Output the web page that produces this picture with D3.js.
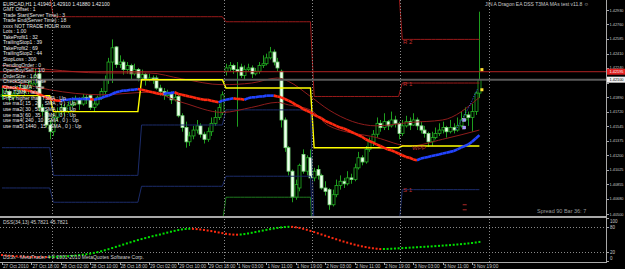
<!DOCTYPE html>
<html><head><meta charset="utf-8">
<script src="https://cdn.jsdelivr.net/npm/d3@7/dist/d3.min.js"></script>
<style>html,body{margin:0;padding:0;background:#000;overflow:hidden}text{font-family:"Liberation Sans",Arial,sans-serif}</style>
</head><body><svg id="c" width="625" height="269"></svg>
<script>
// ---------------- DATA ----------------
const open = [1.4190,1.4192,1.4196,1.4189,1.4193,1.4198,1.4200,1.4196,1.4203,1.4205,
1.4217,1.4177,1.4172,1.4156,1.4148,1.4165,1.4172,1.4177,1.4172,1.4179,
1.4181,1.4186,1.4181,1.4189,1.4191,1.4177,1.4181,1.4189,1.4196,1.4210,
1.4231,1.4249,1.4228,1.4231,1.4222,1.4227,1.4217,1.4222,1.4212,1.4216,
1.4210,1.4212,1.4212,1.4200,1.4196,1.4191,1.4193,1.4186,1.4190,1.4167,
1.4153,1.4136,1.4143,1.4150,1.4155,1.4145,1.4139,1.4148,1.4158,1.4165,
1.4171,1.4220,1.4224,1.4227,1.4222,1.4225,1.4215,1.4222,1.4224,1.4217,
1.4220,1.4227,1.4229,1.4236,1.4243,1.4231,1.4220,1.4162,1.4129,1.4101,
1.4070,1.4081,1.4121,1.4101,1.4117,1.4093,1.4103,1.4096,1.4081,1.4079,
1.4061,1.4073,1.4084,1.4089,1.4086,1.4093,1.4091,1.4105,1.4117,1.4112,
1.4127,1.4136,1.4145,1.4158,1.4153,1.4160,1.4155,1.4162,1.4158,1.4146,
1.4155,1.4160,1.4156,1.4162,1.4155,1.4150,1.4146,1.4136,1.4141,1.4146,
1.4150,1.4153,1.4148,1.4153,1.4150,1.4155,1.4162,1.4168,1.4165,1.4172,
1.4194];
const high = [1.4200,1.4200,1.4198,1.4196,1.4203,1.4205,1.4204,1.4210,1.4212,1.4224,
1.4222,1.4181,1.4174,1.4162,1.4170,1.4177,1.4181,1.4181,1.4184,1.4189,
1.4191,1.4189,1.4193,1.4192,1.4193,1.4186,1.4191,1.4200,1.4215,1.4236,
1.4258,1.4250,1.4239,1.4234,1.4231,1.4229,1.4229,1.4224,1.4222,1.4218,
1.4217,1.4215,1.4215,1.4204,1.4200,1.4198,1.4196,1.4193,1.4192,1.4170,
1.4160,1.4148,1.4155,1.4162,1.4158,1.4148,1.4153,1.4165,1.4174,1.4181,
1.4196,1.4229,1.4231,1.4229,1.4231,1.4229,1.4227,1.4229,1.4227,1.4224,
1.4231,1.4239,1.4241,1.4249,1.4246,1.4236,1.4222,1.4165,1.4131,1.4103,
1.4091,1.4110,1.4127,1.4120,1.4127,1.4105,1.4108,1.4098,1.4089,1.4081,
1.4079,1.4091,1.4096,1.4093,1.4101,1.4098,1.4110,1.4124,1.4120,1.4131,
1.4141,1.4150,1.4165,1.4162,1.4170,1.4162,1.4172,1.4167,1.4160,1.4162,
1.4167,1.4165,1.4170,1.4165,1.4160,1.4155,1.4148,1.4148,1.4153,1.4158,
1.4160,1.4155,1.4162,1.4158,1.4165,1.4172,1.4177,1.4172,1.4181,1.4196,
1.4291];
const low = [1.4186,1.4189,1.4184,1.4185,1.4191,1.4195,1.4191,1.4193,1.4200,1.4203,
1.4172,1.4167,1.4153,1.4139,1.4143,1.4160,1.4168,1.4167,1.4170,1.4177,
1.4179,1.4174,1.4179,1.4181,1.4174,1.4172,1.4179,1.4186,1.4193,1.4205,
1.4206,1.4224,1.4224,1.4216,1.4217,1.4210,1.4215,1.4208,1.4210,1.4203,
1.4208,1.4205,1.4198,1.4191,1.4186,1.4189,1.4181,1.4184,1.4165,1.4148,
1.4129,1.4131,1.4139,1.4146,1.4141,1.4134,1.4136,1.4143,1.4155,1.4162,
1.4168,1.4215,1.4220,1.4217,1.4154,1.4212,1.4210,1.4220,1.4212,1.4215,
1.4217,1.4224,1.4227,1.4234,1.4227,1.4220,1.4153,1.4124,1.4096,1.4064,
1.4067,1.4077,1.4098,1.4096,1.4091,1.4089,1.4091,1.4079,1.4072,1.4055,
1.4059,1.4070,1.4079,1.4081,1.4084,1.4086,1.4089,1.4103,1.4108,1.4110,
1.4124,1.4131,1.4141,1.4148,1.4150,1.4150,1.4153,1.4153,1.4139,1.4143,
1.4153,1.4150,1.4155,1.4150,1.4146,1.4141,1.4130,1.4131,1.4139,1.4143,
1.4146,1.4141,1.4146,1.4146,1.4148,1.4153,1.4160,1.4155,1.4148,1.4168,
1.4188];
const close = [1.4192,1.4196,1.4189,1.4193,1.4198,1.4200,1.4196,1.4203,1.4205,1.4215,
1.4177,1.4172,1.4156,1.4148,1.4165,1.4172,1.4177,1.4172,1.4179,1.4181,
1.4186,1.4181,1.4189,1.4186,1.4177,1.4181,1.4189,1.4196,1.4210,1.4231,
1.4248,1.4228,1.4231,1.4222,1.4227,1.4217,1.4222,1.4212,1.4216,1.4210,
1.4212,1.4210,1.4200,1.4196,1.4191,1.4193,1.4186,1.4189,1.4167,1.4153,
1.4136,1.4143,1.4150,1.4155,1.4145,1.4139,1.4148,1.4158,1.4165,1.4177,
1.4192,1.4224,1.4227,1.4222,1.4220,1.4215,1.4222,1.4224,1.4217,1.4220,
1.4227,1.4229,1.4236,1.4243,1.4231,1.4224,1.4162,1.4129,1.4101,1.4070,
1.4085,1.4108,1.4101,1.4117,1.4093,1.4101,1.4096,1.4081,1.4077,1.4061,
1.4073,1.4084,1.4089,1.4086,1.4093,1.4091,1.4105,1.4117,1.4112,1.4127,
1.4136,1.4145,1.4158,1.4153,1.4160,1.4155,1.4162,1.4158,1.4146,1.4155,
1.4160,1.4156,1.4162,1.4155,1.4150,1.4146,1.4136,1.4141,1.4146,1.4150,
1.4153,1.4148,1.4153,1.4150,1.4155,1.4162,1.4168,1.4165,1.4172,1.4194,
1.4210];
// thick colour-by-slope moving average
const maThick = [1.4202,1.4201,1.4201,1.4200,1.4200,1.4199,1.4198,1.4197,1.4196,1.4195,
1.4193,1.4191,1.4189,1.4187,1.4186,1.4185,1.4185,1.4186,1.4186,1.4187,
1.4187,1.4187,1.4187,1.4187,1.4187,1.4186,1.4187,1.4188,1.4190,1.4191,
1.4193,1.4195,1.4196,1.4197,1.4197,1.4198,1.4198,1.4199,1.4198,1.4197,
1.4196,1.4195,1.4194,1.4193,1.4193,1.4194,1.4194,1.4195,1.4193,1.4192,
1.4191,1.4190,1.4189,1.4188,1.4187,1.4186,1.4186,1.4185,1.4184,1.4183,
1.4185,1.4186,1.4187,1.4188,1.4187,1.4187,1.4186,1.4188,1.4189,1.4189,
1.4190,1.4190,1.4191,1.4191,1.4191,1.4190,1.4189,1.4187,1.4185,1.4183,
1.4180,1.4178,1.4175,1.4173,1.4171,1.4168,1.4166,1.4164,1.4161,1.4159,
1.4157,1.4155,1.4153,1.4152,1.4150,1.4148,1.4146,1.4144,1.4142,1.4139,
1.4137,1.4135,1.4133,1.4131,1.4129,1.4127,1.4126,1.4124,1.4122,1.4120,
1.4118,1.4117,1.4115,1.4114,1.4116,1.4117,1.4118,1.4119,1.4120,1.4121,
1.4122,1.4123,1.4124,1.4125,1.4127,1.4129,1.4131,1.4133,1.4136,1.4140,
1.4144];
// thin slow moving averages (sampled at bar indices)
const maSlowBars = [0,13,27,40,49,60,68,75,78,84,89,102,111,120,130];
const maSlow1 = [1.4227,1.4222,1.4218,1.4218,1.4211,1.4204,1.4206,1.4212,1.4208,1.4190,1.4174,1.4155,1.4159,1.4162,1.4189];
const maSlow2 = [1.4212,1.4198,1.4192,1.4195,1.4183,1.4171,1.4177,1.4183,1.4180,1.4174,1.4155,1.4141,1.4131,1.4139,1.4150];
// trailing-stop dots near the last bars
const trailBars = [124,125,126,127,128,129,130];
const trailPrices = [1.4150,1.4158,1.4165,1.4173,1.4181,1.4191,1.4200];
// order markers
const orderBars = [126,126];
const orderPrices = [1.4162,1.4153];
const stopBars = [126,126];
const stopPrices = [1.4061,1.4055];
// daily pivot levels (one value per day)
const dayStart = [0,14,38,61,85,109];
const pivotPP = [1.4191,1.4172,1.4210,1.4200,1.4129,1.4131];
const pivotR1 = [1.4310,1.4285,1.4285,1.4279,1.4190,1.4206];
const pivotR2 = [1.4330,1.4320,1.4320,1.4320,1.4320,1.4258];
const pivotS1 = [1.4129,1.4096,1.4156,1.4174,1.4030,1.4079];
const pivotS2 = [1.4081,1.4064,1.4083,1.4095,1.4000,1.4010];
const pivotS3 = [1.4030,1.4020,1.4040,1.4070,1.3980,1.4000];
const pivotLabels = ["R 2","R 1","WPP","S 1"];
const pivotLabelPrices = [1.4253,1.4203,1.4126,1.4076];
const hLinePrice = 1.42195;
// DSS oscillator
const dss = [14,13,12.2,11.5,10.9,10.4,10,9.7,9.5,9.3,
9.2,9.15,9.1,9.2,9.4,9.7,10.1,10.6,11.2,11.9,
12.7,13.6,14.6,15.8,17.2,18.8,20.6,22.6,25,27.5,
30.1,32.8,35.5,38.2,40.9,43.5,46.1,48.6,51,53.3,
55.5,57.6,59.6,61.5,63.8,66,68.1,70.1,71.9,73.4,
74.5,75,74.8,74.2,73.3,72.2,70.9,69.5,68,66.4,
64.8,63.3,62.1,61.4,61.2,61.6,62.6,64,65.6,67.3,
69,70.7,72.4,74,75.5,76.9,78.1,79,79.5,79.4,
78.5,77,75,72.6,70,67.3,64.5,61.7,58.9,56.1,
53.3,50.6,47.9,45.3,42.8,40.4,38.1,36,34.1,32.4,
30.9,29.6,28.6,27.8,27.9,28.1,28.5,29,29.5,30,
30.5,31,31.5,32,32.5,33,33.5,34,34.6,35.2,
35.8,36.4,37,37.7,38.4,39.2,40,40.9,41.9,43,
44.3,45.8];
const signalBars = [130,130];
const signalPrices = [1.4222,1.4198];
// axis labels
const priceTicks = [1.42930,1.42760,1.42585,1.42410,1.42240,1.42065,1.41890,1.41720,1.41545,1.41375,1.41200,1.41025,1.40855,1.40680,1.40500];
const timeTickBars = [0,8,16,24,32,40,48,56,64,72,80,88,96,104,112,120,128];
const timeLabels = ["27 Oct 2010","27 Oct 18:00","28 Oct 02:00","28 Oct 10:00","28 Oct 18:00","29 Oct 02:00","29 Oct 10:00","29 Oct 18:00","1 Nov 03:00","1 Nov 11:00","1 Nov 19:00","2 Nov 03:00","2 Nov 11:00","2 Nov 19:00","3 Nov 03:00","3 Nov 11:00","3 Nov 19:00"];
const separatorBars = [14,61,85,109,133];
const dssLevels = [80,20];
const dssTicks = [100,80,20,0];
const infoLines = ["EURCAD,H1  1.41940 1.42910 1.41880 1.42100","GMT Offset : 1","Trade Start(Server Time) : 3","Trade End(Server Time) : 18","xxxx NOT TRADE HOUR xxxx","Lots : 1.00","TakeProfit1 : 32","TrailingStop1 : 39","TakeProfit2 : 69","TrailingStop2 : 44","StopLoss : 300","PendingOrder : 0","OpenBuy/Sell : 1/0","OrderSize : 1.00","CheckSpace : false","Check T3MA : true","Use T3MA : false","Price higher than T3MA : Up","use ma1( 15 , 20 , SMA , 0 ) : Up","use ma2( 30 , 50 , SMA , 0 ) : Up","use ma3( 60 , 35 , SMA , 0 ) : Up","use ma4( 240 , 10 , SMA , 0 ) : Up","use ma5( 1440 , 15 , SMA , 0 ) : Up"];

// ---------------- DRAW ----------------
const svg = d3.select('#c');
svg.append('rect').attr('width',625).attr('height',269).attr('fill','#000');
const n = close.length;
const x = d3.scaleLinear().domain([0,130]).range([2,479.4]);
const y = d3.scaleLinear().domain([1.4050,1.4293]).range([214,10]);
const ys = d3.scaleLinear().domain([0,100]).range([261,218]);
const defs = svg.append('defs');
defs.append('clipPath').attr('id','cm').append('rect').attr('x',0).attr('y',0).attr('width',606).attr('height',216);
defs.append('clipPath').attr('id','cs').append('rect').attr('x',0).attr('y',219).attr('width',606).attr('height',43);
const main = svg.append('g').attr('clip-path','url(#cm)');
const sub = svg.append('g').attr('clip-path','url(#cs)');

// separators (dotted verticals)
svg.append('g').selectAll('line').data(separatorBars).join('line')
  .attr('x1',d=>Math.round(x(d-0.5))+0.5).attr('x2',d=>Math.round(x(d-0.5))+0.5)
  .attr('y1',0).attr('y2',262).attr('stroke','#8a8a8a').attr('stroke-dasharray','1,2');

// candles
const idx = d3.range(n);
main.append('g').selectAll('line').data(idx).join('line')
  .attr('x1',i=>Math.round(x(i))+0.5).attr('x2',i=>Math.round(x(i))+0.5)
  .attr('y1',i=>y(high[i])).attr('y2',i=>y(low[i]))
  .attr('stroke','#1e9e1e').attr('stroke-width',1);
main.append('g').selectAll('rect').data(idx).join('rect')
  .attr('x',i=>Math.round(x(i))-1).attr('width',3)
  .attr('y',i=>y(Math.max(open[i],close[i])))
  .attr('height',i=>Math.max(1,Math.abs(y(open[i])-y(close[i]))))
  .attr('fill',i=>close[i]>=open[i]?'#000':'#f0fff0')
  .attr('stroke',i=>close[i]>=open[i]?'#22b022':'#7ad67a').attr('stroke-width',0.8);

// pivot lines through each bar
function dayVals(arr){ return idx.map(i=>{ let d=0; for(let k=0;k<dayStart.length;k++) if(i>=dayStart[k]) d=k; return arr[d];}); }
function drawLevel(arr,color,w){
  const vals = dayVals(arr);
  main.append('path').datum(idx).attr('fill','none').attr('stroke',color).attr('stroke-width',w)
    .attr('d',d3.line().x(i=>x(i)).y(i=>y(vals[i])));
}
drawLevel(pivotS3,'#1f7a1f',1);
drawLevel(pivotS2,'#1c2c6a',1);
drawLevel(pivotS1,'#1c2c6a',1);
drawLevel(pivotR2,'#9a1a1a',1);
drawLevel(pivotR1,'#9a1a1a',1);

// thin slow MAs
[maSlow1,maSlow2].forEach(arr=>{
  main.append('path').datum(maSlowBars.map((b,k)=>[b,arr[k]])).attr('fill','none')
   .attr('stroke','#8e1c1c').attr('stroke-width',1)
   .attr('d',d3.line().x(d=>x(d[0])).y(d=>y(d[1])).curve(d3.curveMonotoneX));
});
// horizontal lines
main.append('line').attr('x1',0).attr('x2',606).attr('y1',y(hLinePrice)).attr('y2',y(hLinePrice)).attr('stroke','#b02222').attr('stroke-width',1);
main.append('line').attr('x1',0).attr('x2',606).attr('y1',y(close[n-1])).attr('y2',y(close[n-1])).attr('stroke','#5a5a5a').attr('stroke-width',2);
// pivot PP yellow
drawLevel(pivotPP,'#ffff00',1.4);

// thick MA coloured by slope
let col='#ff2a10';
for(let i=1;i<n;i++){
  if(maThick[i]>maThick[i-1]) col='#2244ff'; else if(maThick[i]<maThick[i-1]) col='#ff2a10';
  main.append('line').attr('x1',x(i-1)).attr('x2',x(i)).attr('y1',y(maThick[i-1])).attr('y2',y(maThick[i]))
    .attr('stroke',col).attr('stroke-width',2.6);
}
// trailing dots
main.append('path').datum(trailBars.map((b,k)=>[b,trailPrices[k]])).attr('fill','none')
  .attr('stroke','#3a5cff').attr('stroke-width',1).attr('stroke-dasharray','1,1.5')
  .attr('d',d3.line().x(d=>x(d[0])-1.5).y(d=>y(d[1])));
// order markers
main.append('g').selectAll('rect').data(orderBars).join('rect')
  .attr('x',(d,k)=>x(d)-2).attr('y',(d,k)=>y(orderPrices[k])-1.5).attr('width',3).attr('height',3)
  .attr('fill','#a090ff').attr('stroke','#d8d0ff').attr('stroke-width',0.4);
main.append('g').selectAll('line').data(stopBars).join('line')
  .attr('x1',(d,k)=>x(d)-2).attr('x2',(d,k)=>x(d)+2).attr('y1',(d,k)=>y(stopPrices[k])).attr('y2',(d,k)=>y(stopPrices[k]))
  .attr('stroke','#b02828').attr('stroke-width',1);
// signals
main.append('g').selectAll('rect').data(signalBars).join('rect')
  .attr('x',(d,k)=>x(d)+1).attr('y',(d,k)=>y(signalPrices[k])-1.5).attr('width',3).attr('height',3).attr('fill','#ffe030');

// pivot labels
main.append('g').selectAll('text').data(pivotLabels).join('text')
  .attr('x',(d,k)=>k==2?412:403).attr('y',(d,k)=>y(pivotLabelPrices[k])).text(d=>d)
  .attr('fill','#c03030').attr('font-size',6);

// sub window DSS
sub.append('g').selectAll('line').data(dssLevels).join('line')
  .attr('x1',0).attr('x2',606).attr('y1',d=>Math.round(ys(d))+0.5).attr('y2',d=>Math.round(ys(d))+0.5)
  .attr('stroke','#8a8a8a').attr('stroke-dasharray','1,2');
sub.append('g').selectAll('rect').data(idx).join('rect')
  .attr('x',i=>x(i)-1).attr('y',i=>ys(dss[i])-1).attr('width',2).attr('height',2)
  .attr('fill',i=>{ if(i==0) return '#ff2a10'; return dss[i]>=dss[i-1]?'#00e000':'#ff2a10'; });

// frame
svg.append('rect').attr('x',0).attr('y',216).attr('width',606).attr('height',2).attr('fill','#a8a8a8');
svg.append('line').attr('x1',0).attr('x2',606).attr('y1',262.5).attr('y2',262.5).attr('stroke','#a8a8a8');
svg.append('line').attr('x1',606.5).attr('x2',606.5).attr('y1',0).attr('y2',263).attr('stroke','#a8a8a8');

// price axis (labels hidden under the current price tag are skipped, as in MT4)
const tagPrices = [hLinePrice, close[n-1]];
const visTicks = priceTicks.filter(p=>tagPrices.every(t=>Math.abs(y(p)-y(t))>3.5));
const pa = svg.append('g');
pa.selectAll('line').data(priceTicks).join('line').attr('x1',606).attr('x2',609)
  .attr('y1',d=>Math.round(y(d))+0.5).attr('y2',d=>Math.round(y(d))+0.5).attr('stroke','#a8a8a8');
pa.selectAll('text').data(visTicks).join('text').attr('x',609.5).attr('y',d=>Math.min(y(d)+1.5,216))
  .text(d=>d.toFixed(5)).attr('fill','#c8c8c8').attr('font-size',4).attr('textLength',14).attr('lengthAdjust','spacingAndGlyphs');
// current price labels
function priceTag(p,bg,fg){
  svg.append('rect').attr('x',607).attr('y',y(p)-3).attr('width',18).attr('height',6).attr('fill',bg);
  svg.append('text').attr('x',609.5).attr('y',y(p)+1.5).text(p.toFixed(5)).attr('fill',fg).attr('font-size',4)
   .attr('textLength',14).attr('lengthAdjust','spacingAndGlyphs');
}
priceTag(hLinePrice,'#e02020','#fff');
priceTag(close[n-1],'#f0f0f0','#000');
// dss axis
const da = svg.append('g');
da.selectAll('line').data(dssTicks).join('line').attr('x1',606).attr('x2',609)
  .attr('y1',d=>Math.round(ys(d))+0.5).attr('y2',d=>Math.round(ys(d))+0.5).attr('stroke','#a8a8a8');
da.selectAll('text').data(dssTicks).join('text').attr('x',610)
  .attr('y',d=>Math.max(222.5,Math.min(ys(d)+2,260))).text(d=>d)
  .attr('fill','#c8c8c8').attr('font-size',4.5);
// time axis
const ta = svg.append('g');
ta.selectAll('line').data(timeTickBars).join('line').attr('x1',d=>Math.round(x(d))+0.5).attr('x2',d=>Math.round(x(d))+0.5)
  .attr('y1',262).attr('y2',265).attr('stroke','#a8a8a8');
ta.selectAll('text').data(timeLabels).join('text').attr('x',(d,k)=>x(timeTickBars[k])+1).attr('y',268)
  .text(d=>d).attr('fill','#c8c8c8').attr('font-size',4.7);

// info text
svg.append('g').selectAll('text').data(infoLines).join('text').attr('x',3).attr('y',(d,k)=>5.5+k*5.55)
  .text(d=>d).attr('fill','#e8e8e8').attr('font-size',5);
svg.append('text').attr('x',485).attr('y',6).text('JIN A Dragon EA DSS T3MA MAs test v11.8 \u263A').attr('fill','#c8c8c8').attr('font-size',5);
svg.append('text').attr('x',537).attr('y',213).text('Spread 90   Bar 36:  7').attr('fill','#9a9a9a').attr('font-size',5.5);
svg.append('text').attr('x',3).attr('y',224).text('DSS(34,13) 45.7821 45.7821').attr('fill','#d0d0d0').attr('font-size',5);
svg.append('text').attr('x',3).attr('y',259).text('DSSx - MetaTrader 4 © 2001-2010 MetaQuotes Software Corp.').attr('fill','#d0d0d0').attr('font-size',5);
</script></body></html>
